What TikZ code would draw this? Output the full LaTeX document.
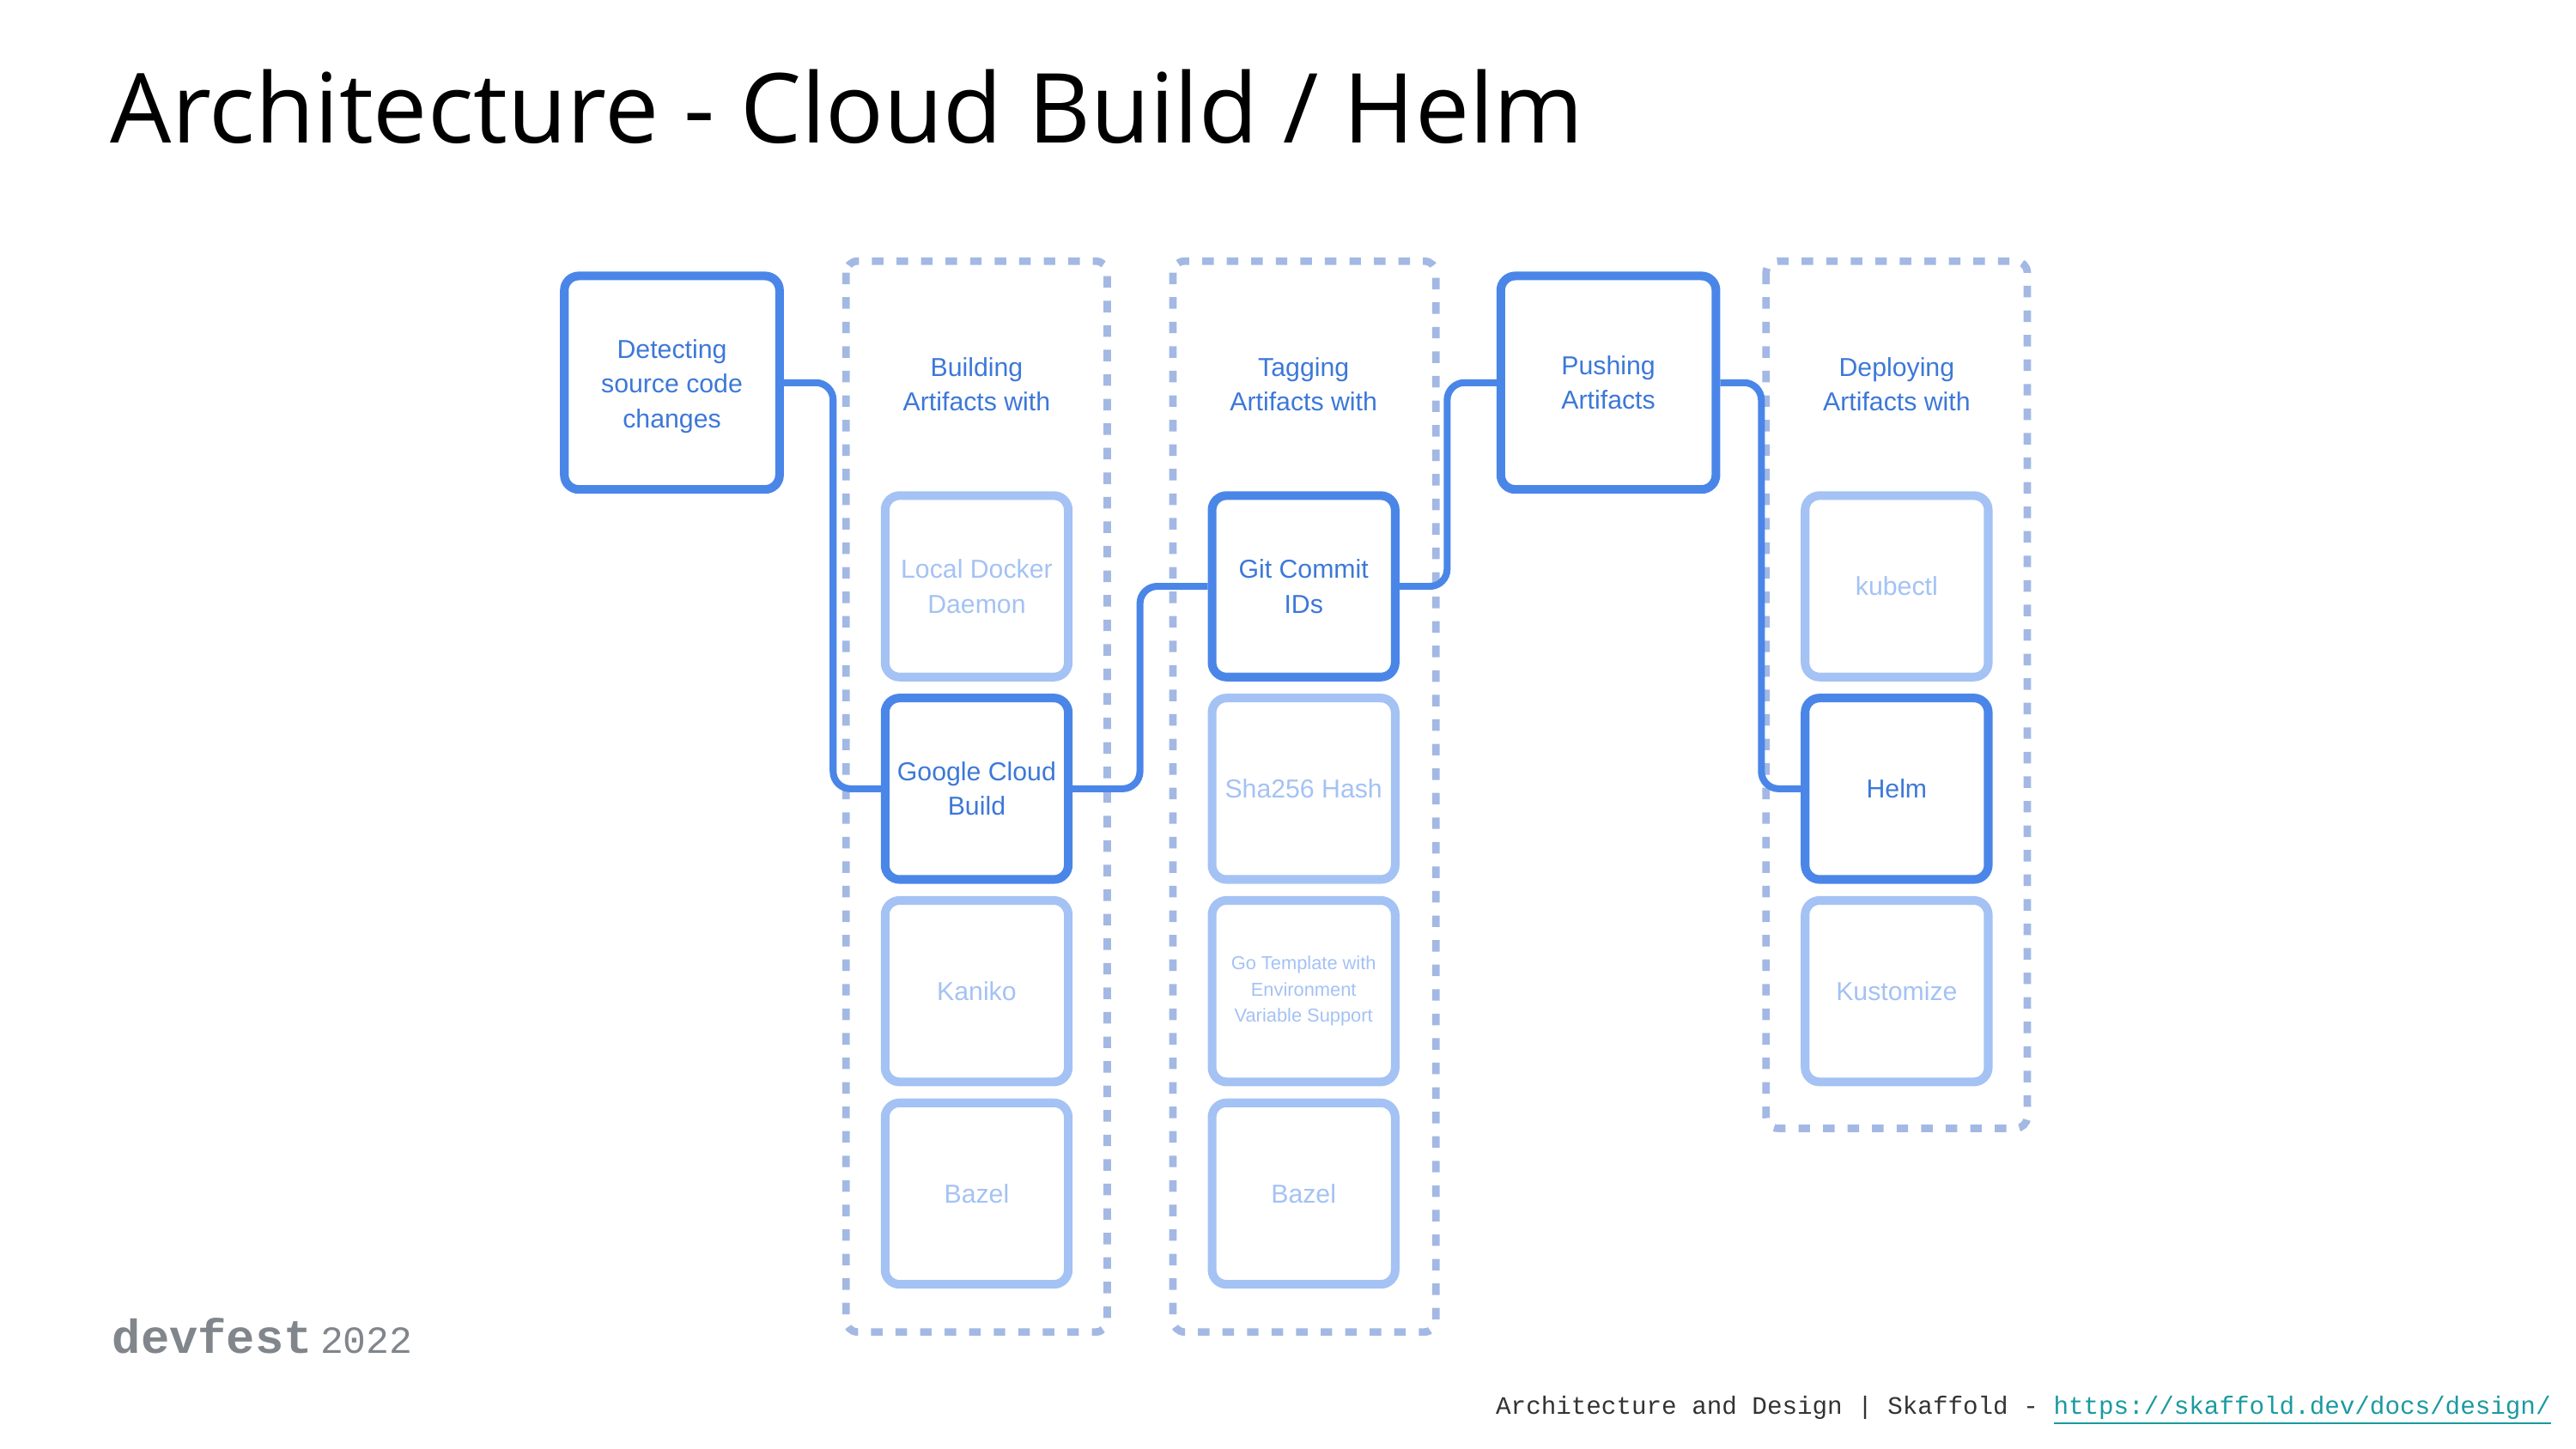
\documentclass[tikz,border=0pt]{standalone}
\usepackage{fontspec}
\setmainfont{Liberation Sans}
\newfontfamily\titlefont{Open Sans}
\newfontfamily\codefont{Liberation Mono}
\usetikzlibrary{positioning}

\definecolor{stepblue}{HTML}{4A86E8}
\definecolor{steptext}{HTML}{3C78D8}
\definecolor{optblue}{HTML}{A4C2F4}
\definecolor{grpblue}{HTML}{A3B9E4}
\definecolor{logogray}{HTML}{80868B}
\definecolor{linkteal}{HTML}{1A9AA0}

\begin{document}
\begin{tikzpicture}[x=0.02cm, y=-0.02cm,
  node distance=0.15cm,
  stage/.style={draw=stepblue, line width=3pt, rounded corners=5pt, fill=white,
    minimum width=2.62cm, minimum height=2.6cm, align=center, text=steptext,
    font=\fontsize{9}{12}\selectfont},
  choice/.style={draw=optblue, line width=3pt, rounded corners=5pt, fill=white,
    minimum width=2.23cm, minimum height=2.21cm, align=center, text=optblue,
    font=\fontsize{9}{12}\selectfont},
  picked/.style={choice, draw=stepblue, text=steptext},
  group/.style={draw=grpblue, line width=2.6pt, dash pattern=on 4pt off 4.5pt, rounded corners=4pt},
  head/.style={align=center, text=steptext, font=\fontsize{9}{12}\selectfont},
  conn/.style={draw=stepblue, line width=2.4pt, rounded corners=6pt}]

\useasboundingbox (0,0) rectangle (1568,882);

% title and footer
\node[anchor=base west, inner sep=0pt, font=\titlefont\fontsize{33.5}{38}\selectfont] (title) at (67,87) {Architecture - Cloud Build / Helm};
\node[anchor=base west, inner sep=0pt, text=logogray] (logo) at (68,824)
  {\codefont\bfseries\fontsize{16.5}{18}\selectfont devfest\,\mdseries\fontsize{13.3}{15}\selectfont 2022};
\node[anchor=base east, inner sep=0pt, font=\codefont\fontsize{8.7}{10}\selectfont] (src) at (1553,861)
  {\textcolor{black!80}{Architecture and Design | Skaffold - }\textcolor{linkteal}{\underline{https://skaffold.dev/docs/design/}}};

% dashed groups
\draw[group] (515,159) rectangle (674,811);
\draw[group] (714,159) rectangle (874,811);
\draw[group] (1075,159) rectangle (1234,687);

% stages
\node[stage] (D) at (409,233) {\\[-3pt]Detecting\\source code\\changes};
\node[stage] (P) at (979,233) {Pushing\\Artifacts};

\node[head] (BH) at (594.5,234) {Building\\Artifacts with};
\node[head] (TH) at (793.5,234) {Tagging\\Artifacts with};
\node[head] (DH) at (1154.5,234) {Deploying\\Artifacts with};

% building
\node[choice] (LD) at (594.5,357) {Local Docker\\Daemon};
\node[picked, below=of LD] (GCB) {Google Cloud\\Build};
\node[choice, below=of GCB] (K) {Kaniko};
\node[choice, below=of K] (BZ) {Bazel};

% tagging
\node[picked] (GIT) at (793.5,357) {Git Commit\\IDs};
\node[choice, below=of GIT] (SHA) {Sha256 Hash};
\node[choice, below=of SHA, font=\fontsize{6.5}{9.1}\selectfont] (GO) {Go Template with\\Environment\\Variable Support};
\node[choice, below=of GO] (BZT) {Bazel};

% deploying
\node[choice] (KC) at (1154.5,357) {kubectl};
\node[picked, below=of KC] (H) {Helm};
\node[choice, below=of H] (KZ) {Kustomize};

% flow
\draw[conn] (D.east) -- ++(30,0) |- (GCB.west);
\draw[conn] (GCB.east) -- ++(41,0) |- (GIT.west);
\draw[conn] (GIT.east) -- ++(29,0) |- (P.west);
\draw[conn] (P.east) -- ++(25,0) |- (H.west);
\end{tikzpicture}
\end{document}
